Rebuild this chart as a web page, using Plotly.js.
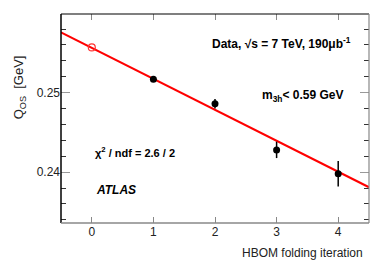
<!DOCTYPE html>
<html><head><meta charset="utf-8">
<script src="https://cdn.plot.ly/plotly-3.0.1.min.js"></script>
<style>html,body{margin:0;padding:0;background:#fff}#plot{width:390px;height:265px}</style>
</head><body><div id="plot"></div>
<script>
const iterX = [1, 2, 3, 4];
const qos = [0.2517, 0.2486, 0.2428, 0.2398];
const qosErr = [0.0002, 0.0006, 0.00103, 0.0016];
const extrapX = [0];
const extrapQ = [0.2557];
const fitX = [-0.5, 4.5];
const fitQ = [0.2576, 0.2381];
const xTicks = [0, 1, 2, 3, 4];
const yTicks = [0.24, 0.25];

const F = 'Liberation Sans, Arial, Helvetica, sans-serif';
const traces = [
  {x: fitX, y: fitQ, mode: 'lines', line: {color: '#ff0000', width: 2}, hoverinfo: 'skip'},
  {x: extrapX, y: extrapQ, mode: 'markers', marker: {symbol: 'circle-open', size: 7, color: '#ff3333', line: {width: 1.2}}},
  {x: iterX, y: qos, mode: 'markers', marker: {symbol: 'circle', size: 7, color: '#000'},
   error_y: {type: 'data', array: qosErr, visible: true, color: '#000', thickness: 1.5, width: 0}}
];
const layout = {
  width: 390, height: 265, showlegend: false,
  margin: {l: 61, r: 21, t: 14, b: 42},
  paper_bgcolor: '#fff', plot_bgcolor: '#fff',
  font: {family: F, size: 12, color: '#000'},
  xaxis: {range: [-0.5, 4.5], tickvals: xTicks, ticktext: xTicks.map(String), ticks: 'inside', ticklen: 6,
          tickcolor: '#888', tickwidth: 1, mirror: 'allticks', showline: false, showgrid: false, zeroline: false,
          tickfont: {family: F, size: 12, color: '#222'}},
  yaxis: {range: [0.2336, 0.2599], tickvals: yTicks, ticktext: ['0.24', '0.25'], ticks: 'inside', ticklen: 9,
          tickcolor: '#999', tickwidth: 1.2, mirror: 'allticks', showline: false, showgrid: false, zeroline: false,
          tickfont: {family: F, size: 12, color: '#222'},
          minor: {dtick: 0.002, ticks: 'inside', ticklen: 5, tickcolor: '#333', tickwidth: 1, showgrid: false}},
  shapes: [
    {type: 'line', xref: 'paper', yref: 'paper', x0: 0, x1: 1, y0: 1, y1: 1, line: {color: '#000', width: 1.2}},
    {type: 'line', xref: 'paper', yref: 'paper', x0: 0, x1: 0, y0: 0, y1: 1, line: {color: '#000', width: 1.5}},
    {type: 'line', xref: 'paper', yref: 'paper', x0: 0, x1: 1, y0: 0, y1: 0, line: {color: '#888', width: 1.5}},
    {type: 'line', xref: 'paper', yref: 'paper', x0: 1, x1: 1, y0: 0, y1: 1, line: {color: '#888', width: 1.2}}
  ],
  annotations: [
    {xref: 'paper', yref: 'paper', x: 0.484, y: 0.861, xanchor: 'left', yanchor: 'middle', showarrow: false,
     text: '<b>Data, √s = 7 TeV, 190μb<sup>-1</sup></b>', font: {family: F, size: 12}},
    {xref: 'paper', yref: 'paper', x: 0.646, y: 0.608, xanchor: 'left', yanchor: 'middle', showarrow: false,
     text: '<b>m<sub>3h</sub>< 0.59 GeV</b>', font: {family: F, size: 12}},
    {xref: 'paper', yref: 'paper', x: 0.104, y: 0.34, xanchor: 'left', yanchor: 'middle', showarrow: false,
     text: '<b>χ<sup>2</sup> / ndf = 2.6 / 2</b>', font: {family: F, size: 11}},
    {xref: 'paper', yref: 'paper', x: 0.107, y: 0.158, xanchor: 'left', yanchor: 'middle', showarrow: false,
     text: '<b><i>ATLAS</i></b>', font: {family: F, size: 12}},
    {xref: 'paper', yref: 'paper', x: 0.987, y: -0.1435, xanchor: 'right', yanchor: 'middle', showarrow: false,
     text: 'HBOM folding iteration', font: {family: F, size: 12, color: '#222'}},
    {xref: 'paper', yref: 'paper', x: -0.136, y: 0.65, xanchor: 'center', yanchor: 'middle', showarrow: false,
     textangle: -90, text: 'Q<sub>OS</sub>  [GeV]', font: {family: F, size: 13, color: '#222'}}
  ]
};
Plotly.newPlot('plot', traces, layout, {staticPlot: true, displayModeBar: false});
</script></body></html>
